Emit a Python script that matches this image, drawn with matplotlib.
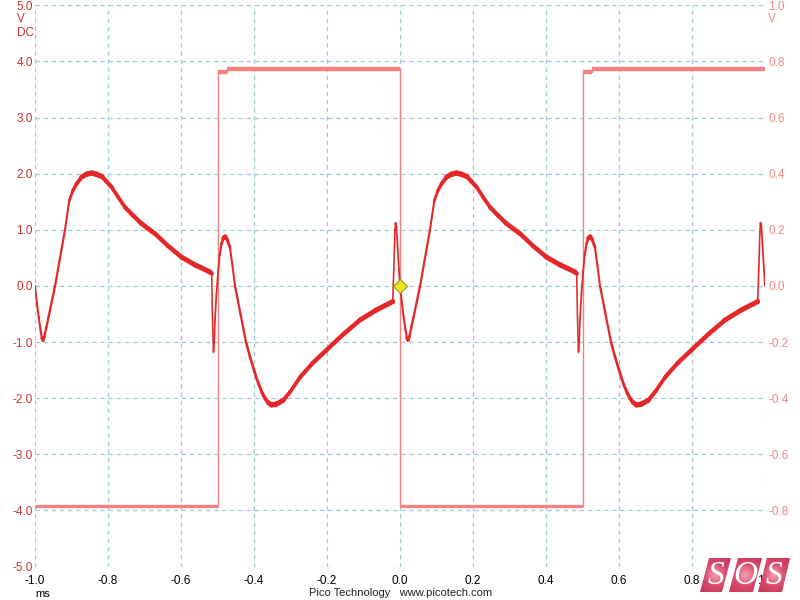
import numpy as np
import matplotlib
matplotlib.use("Agg")
import matplotlib.pyplot as plt
from matplotlib.collections import LineCollection
from matplotlib.patches import Polygon
from matplotlib.colors import LinearSegmentedColormap
from matplotlib.ticker import FormatStrFormatter

plt.rcParams['font.family'] = ['Liberation Sans', 'DejaVu Sans']
plt.rcParams['axes.unicode_minus'] = False

# channel A, one period after the trigger (ms, V)
cycle_t = [0.000, 0.005, 0.010, 0.015, 0.019, 0.022, 0.026, 0.031, 0.037, 0.046,
           0.055, 0.068, 0.082, 0.094, 0.104, 0.114, 0.128, 0.141, 0.155, 0.168,
           0.183, 0.196, 0.210, 0.228, 0.247, 0.268, 0.290, 0.310, 0.329, 0.365,
           0.402, 0.440, 0.479, 0.484, 0.486, 0.489, 0.491, 0.493, 0.497, 0.502,
           0.506, 0.511, 0.516, 0.521, 0.527, 0.534, 0.541, 0.548, 0.563, 0.578,
           0.589, 0.600, 0.612, 0.622, 0.630, 0.639, 0.648, 0.660, 0.680, 0.700,
           0.726, 0.760, 0.799, 0.845, 0.890, 0.935, 0.980, 0.983, 0.986, 0.988,
           0.990, 0.993, 0.997, 1.000]
cycle_a = [0.00, -0.30, -0.55, -0.78, -0.93, -0.97, -0.90, -0.74, -0.56, -0.28,
           0.00, 0.48, 0.99, 1.52, 1.70, 1.82, 1.94, 1.99, 2.01, 1.99,
           1.95, 1.86, 1.76, 1.58, 1.40, 1.26, 1.12, 1.02, 0.93, 0.71,
           0.51, 0.37, 0.25, 0.22, -0.50, -1.18, -1.00, -0.62, -0.15, 0.27,
           0.55, 0.75, 0.85, 0.88, 0.82, 0.69, 0.36, 0.00, -0.50, -1.00,
           -1.26, -1.50, -1.74, -1.90, -2.00, -2.08, -2.12, -2.11, -2.04, -1.88,
           -1.63, -1.38, -1.14, -0.86, -0.61, -0.43, -0.28, 0.30, 0.95, 1.12,
           1.05, 0.75, 0.30, 0.00]
period_starts = [-1.0, 0.0]

# channel B square wave, one period (ms, V)
b_t = [0.0, 0.5, 0.525, 1.0]
b_v = [-0.785, 0.762, 0.772]

x_ticks = [-1.0, -0.8, -0.6, -0.4, -0.2, 0.0, 0.2, 0.4, 0.6, 0.8, 1.0]
a_ticks = [-5.0, -4.0, -3.0, -2.0, -1.0, 0.0, 1.0, 2.0, 3.0, 4.0, 5.0]
b_ticks = [-1.0, -0.8, -0.6, -0.4, -0.2, 0.0, 0.2, 0.4, 0.6, 0.8, 1.0]

red = '#e4282a'
pink = '#f08282'
grid_col = '#9ccbd6'
grid_dash = (0, (3.5, 3))

fig = plt.figure(figsize=(8, 6), dpi=100)
ax = fig.add_axes([35/800, 1-566.5/600, 730/800, 561.2/600])
axb = ax.twinx()
ax.set_zorder(2)
axb.set_zorder(1)
ax.patch.set_visible(False)

for a in (ax, axb):
    for s in a.spines.values():
        s.set_visible(False)
    a.set_xlim(-1, 1)
ax.set_ylim(-5, 5)
axb.set_ylim(-1, 1)
ax.set_xticks(x_ticks)
ax.set_yticks(a_ticks)
axb.set_yticks(b_ticks)
ax.xaxis.set_major_formatter(FormatStrFormatter('%.1f'))
ax.yaxis.set_major_formatter(FormatStrFormatter('%.1f'))
axb.yaxis.set_major_formatter(FormatStrFormatter('%.1f'))
ax.tick_params(axis='x', length=0, pad=6, labelsize=8.5, labelcolor='black')
ax.tick_params(axis='y', length=0, pad=1.5, labelsize=8.5, labelcolor='#c8322d')
axb.tick_params(axis='y', length=0, pad=2.5, labelsize=8.5, labelcolor='#e88a8a')
axb.grid(True, axis='y', color=grid_col, lw=0.9, linestyle=grid_dash)
for xt in x_ticks:
    axb.axvline(xt, color=grid_col, lw=0.9, linestyle=grid_dash, zorder=0.5)

# channel B (square wave)
bt, bv = [], []
for off in period_starts:
    bt += [t + off for t in b_t[:-1]]
    bv += b_v
bt.append(b_t[-1] + period_starts[-1])
bv.append(b_v[-1])
axb.step(bt, bv, where='post', color=pink, lw=1.0)
flat_w = [2.4 if v < 0 else 3.2 for v in bv[:-1]]
axb.hlines(bv[:-1], bt[:-1], bt[1:], colors=pink, linewidths=flat_w)

# channel A, width follows how noisy the trace looks at each slope
ct = np.array(cycle_t)
ca = np.array(cycle_a)
slope = (np.diff(ca) * 56.1) / (np.diff(ct) * 365.0)
widths = (1.5 + 4.0 / np.sqrt(1 + slope ** 2)) * 0.72
for off in period_starts:
    pts = np.column_stack([ct + off, ca])
    segs = np.stack([pts[:-1], pts[1:]], axis=1)
    lc = LineCollection(segs, linewidths=widths, colors=red,
                        capstyle='round', joinstyle='round')
    ax.add_collection(lc)

ax.plot([0], [0], marker='D', ms=7, mfc='#f2e21e', mec='#9a9a22', mew=0.8,
        linestyle='none', zorder=5)

# overlay in pixel coordinates for labels and logo
ov = fig.add_axes([0, 0, 1, 1], zorder=5)
ov.patch.set_visible(False)
ov.axis('off')
ov.text(17, 19.5, 'V', color='#c8322d', fontsize=8.5, va='center', ha='left')
ov.text(17, 33, 'DC', color='#c8322d', fontsize=8.5, va='center', ha='left')
ov.text(768, 19.5, 'V', color='#e88a8a', fontsize=8.5, va='center', ha='left')
ov.text(43, 594, 'ms', color='black', fontsize=8, va='center', ha='center')
ov.text(401, 593, 'Pico Technology   www.picotech.com', color='#222222',
        fontsize=8, va='center', ha='center')

tiles = [[(700, 592), (709, 558), (731, 558), (722, 592)],
         [(729, 592), (738, 558), (762, 558), (753, 592)],
         [(758, 592), (767, 558), (790, 558), (782, 592)]]
letters = ['S', 'O', 'S']
tile_cmap = LinearSegmentedColormap.from_list('tile', ['#f2a3b4', '#d8496b', '#c93458'])
gx, gy = np.meshgrid(np.linspace(-1, 1, 60), np.linspace(-1, 1, 60))
grad = np.sqrt(gx ** 2 + gy ** 2)
for poly_pts, letter in zip(tiles, letters):
    xs = [p[0] for p in poly_pts]
    ys = [p[1] for p in poly_pts]
    poly = Polygon(poly_pts, closed=True, facecolor='none', edgecolor='none')
    ov.add_patch(poly)
    im = ov.imshow(grad, cmap=tile_cmap, extent=(min(xs), max(xs), max(ys), min(ys)),
                   aspect='auto', interpolation='bilinear', vmin=0, vmax=1.4)
    im.set_clip_path(poly)
    ov.text(sum(xs) / 4, 576, letter, color='white', fontsize=24,
            family='Liberation Serif', style='italic', ha='center', va='center')
ov.set_xlim(0, 800)
ov.set_ylim(600, 0)

fig.savefig('out.png', dpi=100, facecolor='white')
